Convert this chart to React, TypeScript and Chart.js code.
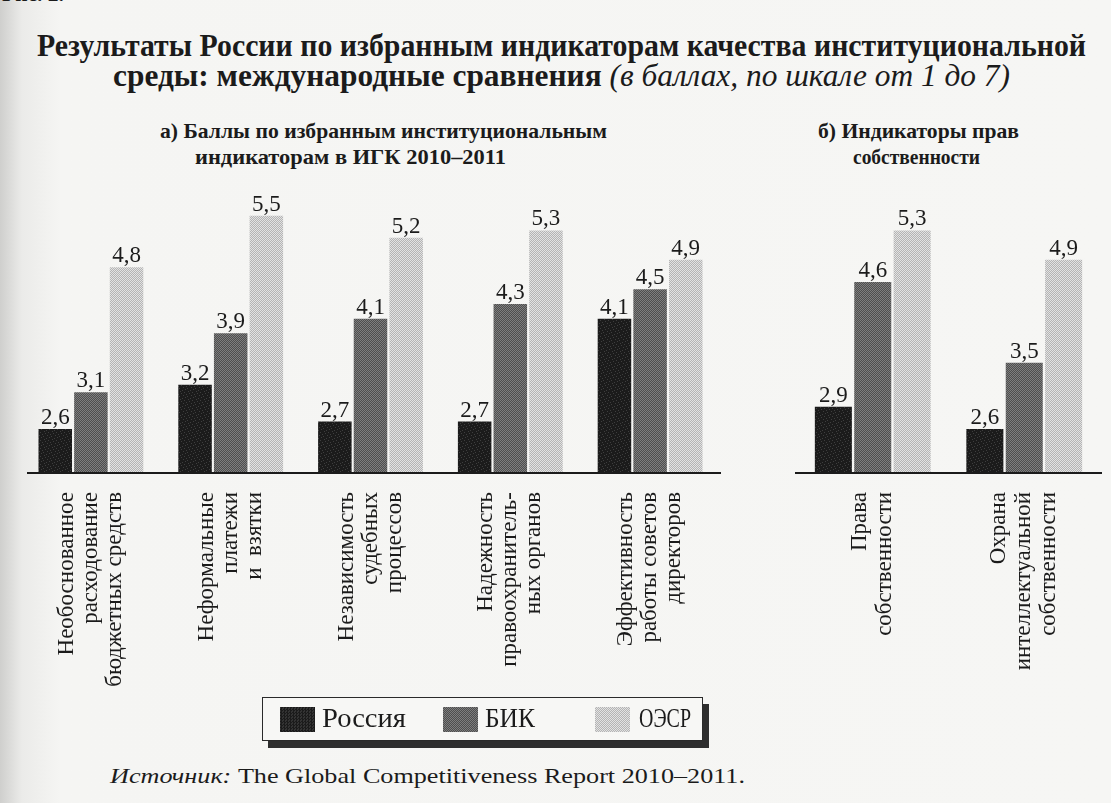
import React, { useEffect, useLayoutEffect, useRef } from "react";
import { Chart, registerables } from "chart.js";

Chart.register(...registerables);

// ---- data ----
const seriesNames = ["Россия", "БИК", "ОЭСР"];

const categoriesA: string[][] = [
  ["Необоснованное", "расходование", "бюджетных средств"],
  ["Неформальные", "платежи", "и  взятки"],
  ["Независимость", "судебных", "процессов"],
  ["Надежность", "правоохранитель-", "ных органов"],
  ["Эффективность", "работы советов", "директоров"],
];
const russiaA = [2.6, 3.2, 2.7, 2.7, 4.1];
const bicA = [3.1, 3.9, 4.1, 4.3, 4.5];
const oecdA = [4.8, 5.5, 5.2, 5.3, 4.9];

const categoriesB: string[][] = [
  ["Права", "собственности"],
  ["Охрана", "интеллектуальной", "собственности"],
];
const russiaB = [2.9, 2.6];
const bicB = [4.6, 3.5];
const oecdB = [5.3, 4.9];

const yMin = 2;
const yMax = 6;

const titleLine1 = "Результаты России по избранным индикаторам качества институциональной";
const titleLine2Bold = "среды: международные сравнения ";
const titleLine2Italic = "(в баллах, по шкале от 1 до 7)";
const subA1 = "а) Баллы по избранным институциональным";
const subA2 = "индикаторам в ИГК 2010–2011";
const subB1 = "б) Индикаторы прав";
const subB2 = "собственности";
const sourceLabel = "Источник:";
const sourceText = " The Global Competitiveness Report 2010–2011.";

const SERIF = '"Liberation Serif", "Times New Roman", serif';

function makePattern(base: string, dot: string, mask: string[]): CanvasPattern | string {
  const h = mask.length;
  const w = mask[0].length;
  const cv = document.createElement("canvas");
  cv.width = w;
  cv.height = h;
  const g = cv.getContext("2d");
  if (!g) return base;
  g.fillStyle = base;
  g.fillRect(0, 0, w, h);
  g.fillStyle = dot;
  for (let y = 0; y < h; y++)
    for (let x = 0; x < w; x++) if (mask[y][x] === "1") g.fillRect(x, y, 1, 1);
  const p = g.createPattern(cv, "repeat");
  return p || base;
}

function FitText(props: {
  left: number;
  top: number;
  width: number;
  size: number;
  weight?: number;
  style?: React.CSSProperties;
  children: React.ReactNode;
}) {
  const ref = useRef<HTMLSpanElement>(null);
  useLayoutEffect(() => {
    const el = ref.current;
    if (!el) return;
    el.style.transform = "none";
    const w = el.getBoundingClientRect().width;
    if (w > 0) el.style.transform = `scaleX(${props.width / w})`;
  });
  return (
    <span
      ref={ref}
      style={{
        position: "absolute",
        left: props.left,
        top: props.top,
        whiteSpace: "pre",
        transformOrigin: "0 0",
        fontSize: props.size,
        fontWeight: props.weight ?? 400,
        lineHeight: 1,
        display: "inline-block",
        fontFamily: SERIF,
        color: "#1b1b1b",
        ...props.style,
      }}
    >
      {props.children}
    </span>
  );
}

function makeChart(
  canvas: HTMLCanvasElement,
  cats: string[][],
  r: number[],
  b: number[],
  o: number[],
  catPct: number,
  barPct: number,
  padding: { left: number; right: number; top: number; bottom: number },
  ext: [number, number],
  pitch: number
) {
  const pR = makePattern("#1b1b1b", "#3e3e3e", ["10000000", "00000100", "00100000", "00000001", "00010000", "01000000", "00000010", "00001000"]);
  const pB = makePattern("#4e4e4e", "#7e7e7e", ["10", "01"]);
  const pO = makePattern("#b4b4b4", "#e2e2e2", ["10", "01"]);

  const textPlugin = {
    id: "textPlugin",
    afterDatasetsDraw(chart: any) {
      const ctx = chart.ctx as CanvasRenderingContext2D;
      const xs = chart.scales.x;
      const ys = chart.scales.y;
      const y0 = ys.getPixelForValue(yMin);
      ctx.save();
      // value labels
      ctx.font = `23px ${SERIF}`;
      ctx.fillStyle = "#1b1b1b";
      ctx.textAlign = "center";
      ctx.textBaseline = "alphabetic";
      chart.data.datasets.forEach((ds: any, di: number) => {
        const meta = chart.getDatasetMeta(di);
        meta.data.forEach((el: any, i: number) => {
          const v = ds.data[i] as number;
          ctx.fillText(v.toFixed(1).replace(".", ","), el.x, el.y - 5);
        });
      });
      // baseline
      ctx.strokeStyle = "#1b1b1b";
      ctx.lineWidth = 2;
      ctx.beginPath();
      ctx.moveTo(chart.chartArea.left + ext[0], y0);
      ctx.lineTo(chart.chartArea.right + ext[1], y0);
      ctx.stroke();
      // category labels (rotated)
      ctx.font = `23px ${SERIF}`;
      ctx.textAlign = "right";
      ctx.textBaseline = "middle";
      cats.forEach((lines, i) => {
        const x = xs.getPixelForValue(i);
        lines.forEach((line, j) => {
          const cx = x + (j - (lines.length - 1) / 2) * pitch;
          ctx.save();
          ctx.translate(cx, y0 + 19);
          ctx.rotate(-Math.PI / 2);
          ctx.fillText(line, 0, 0);
          ctx.restore();
        });
      });
      ctx.restore();
    },
  };

  return new Chart(canvas, {
    type: "bar",
    data: {
      labels: cats.map((c) => c.join(" ")),
      datasets: [
        { label: seriesNames[0], data: r, backgroundColor: pR as any, base: yMin } as any,
        { label: seriesNames[1], data: b, backgroundColor: pB as any, base: yMin } as any,
        { label: seriesNames[2], data: o, backgroundColor: pO as any, base: yMin } as any,
      ],
    },
    options: {
      animation: false,
      responsive: true,
      maintainAspectRatio: false,
      layout: { padding },
      datasets: { bar: { categoryPercentage: catPct, barPercentage: barPct, borderWidth: 0 } },
      plugins: { legend: { display: false }, tooltip: { enabled: false }, title: { display: false } },
      scales: {
        x: { display: false, grid: { display: false } },
        y: { display: false, min: yMin, max: yMax, grid: { display: false } },
      },
    },
    plugins: [textPlugin],
  });
}

export default function App() {
  const refA = useRef<HTMLCanvasElement>(null);
  const refB = useRef<HTMLCanvasElement>(null);

  useEffect(() => {
    if (!refA.current || !refB.current) return;
    const a = makeChart(refA.current, categoriesA, russiaA, bicA, oecdA, 0.765, 0.94,
      { left: 21, right: 20, top: 19, bottom: 227 }, [6, 1], 24);
    const b = makeChart(refB.current, categoriesB, russiaB, bicB, oecdB, 0.78, 0.94,
      { left: 37, right: 11, top: 19, bottom: 227 }, [-2, 2], 25);
    return () => {
      a.destroy();
      b.destroy();
    };
  }, []);

  const swatch = (left: number, bg: string): React.CSSProperties => ({
    position: "absolute",
    left,
    top: 707,
    width: 35,
    height: 25,
    background: bg,
  });

  return (
    <div
      style={{
        position: "fixed",
        left: 0,
        top: 0,
        width: 1111,
        height: 803,
        overflow: "hidden",
        background: "linear-gradient(to right, #cfcfcd 0px, #ebebe9 22px, #f5f5f3 60px, #f6f6f4 100%)",
        fontFamily: SERIF,
      }}
    >
      <FitText left={2} top={-17} width={62} size={22} weight={700}>Рис. 2.</FitText>

      <FitText left={37} top={30} width={1049} size={31} weight={700}>{titleLine1}</FitText>
      <FitText left={113} top={60} width={897} size={31} weight={700}>
        {titleLine2Bold}
        <i style={{ fontWeight: 400 }}>{titleLine2Italic}</i>
      </FitText>

      <FitText left={160} top={121} width={447} size={21} weight={700}>{subA1}</FitText>
      <FitText left={195} top={147} width={311} size={21} weight={700}>{subA2}</FitText>
      <FitText left={818} top={121} width={201} size={21} weight={700}>{subB1}</FitText>
      <FitText left={853} top={147} width={127} size={21} weight={700}>{subB2}</FitText>

      <div style={{ position: "absolute", left: 0, top: 160, width: 740, height: 540 }}>
        <canvas ref={refA} />
      </div>
      <div style={{ position: "absolute", left: 760, top: 160, width: 351, height: 540 }}>
        <canvas ref={refB} />
      </div>

      {/* legend */}
      <div
        style={{
          position: "absolute",
          left: 262,
          top: 697,
          width: 441,
          height: 44,
          boxSizing: "border-box",
          border: "1.5px solid #2a2a2a",
          boxShadow: "6px 7px 0 #2e2e2e",
          background: "#f7f7f5",
        }}
      />
      <div style={swatch(280, "repeating-conic-gradient(#1b1b1b 0 25%, #333 0 50%) 0 0/3px 3px")} />
      <FitText left={322} top={705} width={84} size={27}>{seriesNames[0]}</FitText>
      <div style={swatch(443, "repeating-conic-gradient(#4e4e4e 0 25%, #7e7e7e 0 50%) 0 0/2px 2px")} />
      <FitText left={485} top={705} width={50} size={27}>{seriesNames[1]}</FitText>
      <div style={swatch(595, "repeating-conic-gradient(#b4b4b4 0 25%, #e2e2e2 0 50%) 0 0/2px 2px")} />
      <FitText left={639} top={705} width={52} size={27}>{seriesNames[2]}</FitText>

      <FitText left={110} top={765} width={635} size={22}>
        <i>{sourceLabel}</i>
        {sourceText}
      </FitText>
    </div>
  );
}
